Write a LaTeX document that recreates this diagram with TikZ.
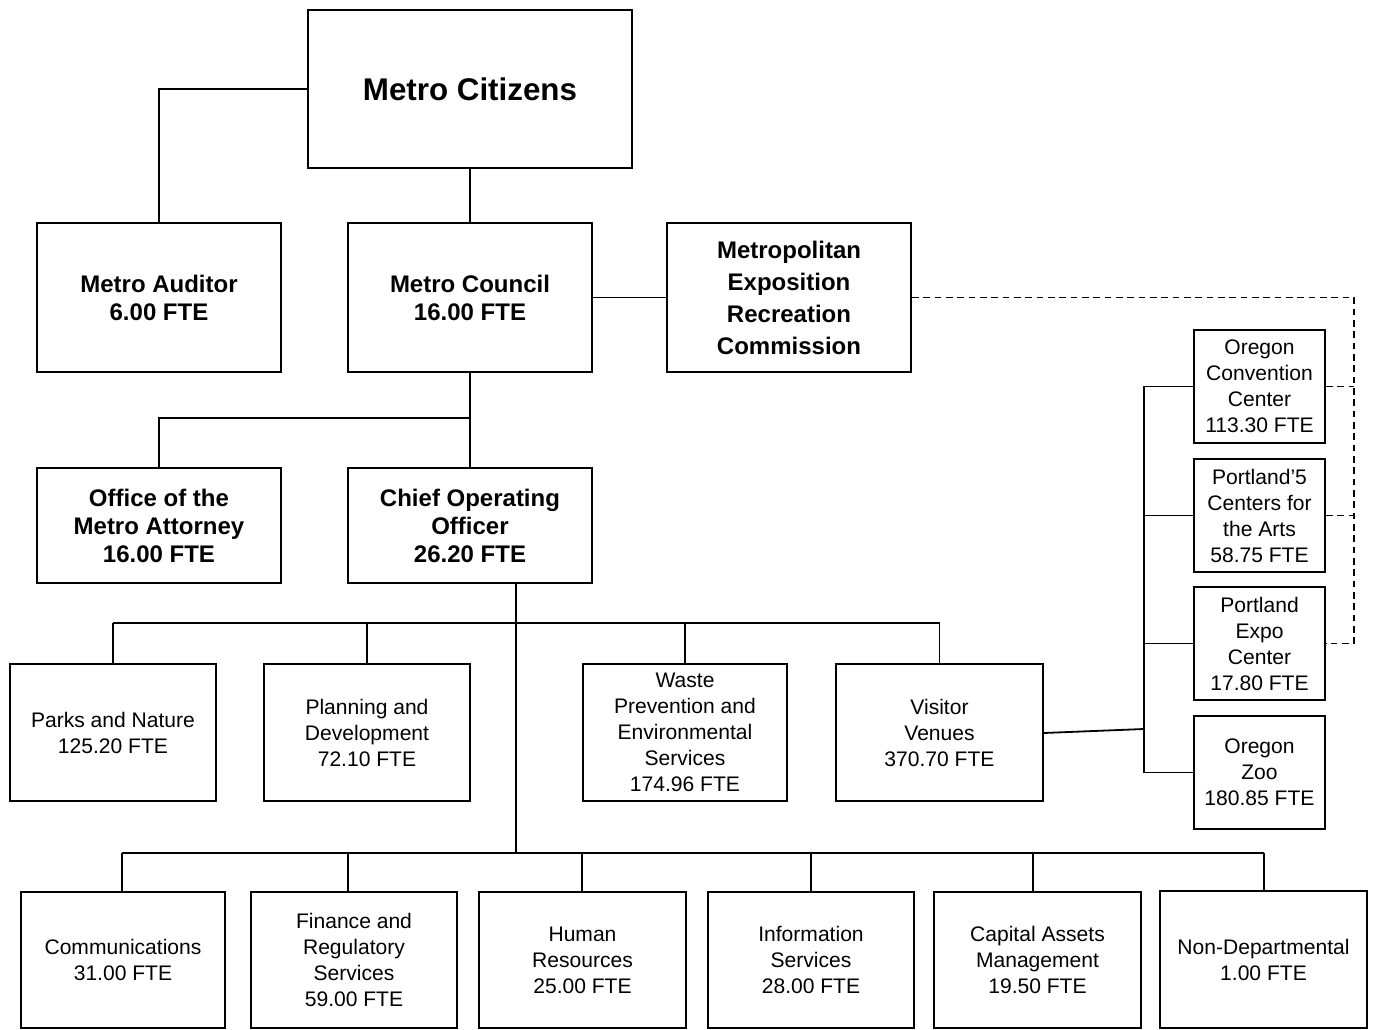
\documentclass[tikz,border=0pt]{standalone}
\usepackage{fontspec}
\setmainfont{Liberation Sans}
\begin{document}
\begin{tikzpicture}[x=0.75pt,y=-0.75pt,
  box/.style 2 args={draw, line width=1.35pt, align=center, inner sep=0pt,
    minimum width=#1*0.75pt, minimum height=#2*0.75pt,
    font=\fontsize{15.8}{19.5}\selectfont},
  bbox/.style 2 args={box={#1}{#2}, font=\bfseries\fontsize{18}{21}\selectfont},
  conn/.style={line width=1.35pt},
  dconn/.style={line width=1.35pt, dashed, dash pattern=on 5pt off 3.5pt}]
\useasboundingbox (0,0) rectangle (1375,1030);
\fill[white] (0,0) rectangle (1375,1030);
% top level
\node[box={324}{158}, font=\bfseries\fontsize{23.5}{27}\selectfont] (cit) at (470,89) {Metro Citizens};
\node[bbox={244}{149}] (aud) at (159,297.5) {Metro Auditor\\6.00 FTE};
\node[bbox={244}{149}] (cou) at (470,297.5) {Metro Council\\16.00 FTE};
\node[bbox={244}{149}, font=\bfseries\fontsize{18}{24}\selectfont] (merc) at (789,297.5) {Metropolitan\\Exposition\\Recreation\\Commission};
\node[bbox={244}{115}] (att) at (159,525.5) {Office of the\\Metro Attorney\\16.00 FTE};
\node[bbox={244}{115}] (coo) at (470,525.5) {Chief Operating\\Officer\\26.20 FTE};
% middle row
\node[box={206}{137}] (parks) at (113,732.5) {Parks and Nature\\125.20 FTE};
\node[box={206}{137}] (plan) at (367,732.5) {Planning and\\Development\\72.10 FTE};
\node[box={204}{137}] (waste) at (685,732.5) {Waste\\Prevention and\\Environmental\\Services\\174.96 FTE};
\node[box={207}{137}] (vv) at (939.5,732.5) {Visitor\\Venues\\370.70 FTE};
% venues
\node[box={131}{113}] (occ) at (1259.5,386.5) {Oregon\\Convention\\Center\\113.30 FTE};
\node[box={131}{113}] (p5) at (1259.5,515.5) {Portland’5\\Centers for\\the Arts\\58.75 FTE};
\node[box={131}{113}] (expo) at (1259.5,643.5) {Portland\\Expo\\Center\\17.80 FTE};
\node[box={131}{113}] (zoo) at (1259.5,772.5) {Oregon\\Zoo\\180.85 FTE};
% bottom row
\node[box={204}{136}] (comm) at (123,960) {Communications\\31.00 FTE};
\node[box={206}{136}] (fin) at (354,960) {Finance and\\Regulatory\\Services\\59.00 FTE};
\node[box={207}{136}] (hr) at (582.5,960) {Human\\Resources\\25.00 FTE};
\node[box={206}{136}] (info) at (811,960) {Information\\Services\\28.00 FTE};
\node[box={207}{136}] (cap) at (1037.5,960) {Capital Assets\\Management\\19.50 FTE};
\node[box={207}{137}] (nd) at (1263.5,959.5) {Non-Departmental\\1.00 FTE};
% coordinates
\coordinate (dr) at (1354,297.5);
\coordinate (vbus) at (1144,729);
\coordinate (cooout) at (516,583);
\coordinate (bus1) at (516,623);
\coordinate (bus2) at (516,853);
\coordinate (attj) at (470,418);
% connectors top
\draw[conn] (cit.west) -| (aud.north);
\draw[conn] (cit.south) -- (cou.north);
\draw[conn] (cou.east) -- (merc.west);
\draw[conn] (cou.south) -- (coo.north);
\draw[conn] (attj) -| (att.north);
% dashed
\draw[dconn] (merc.east) -- (dr) -- (dr |- expo.east) -- (expo.east);
\draw[dconn] (occ.east) -- (dr |- occ.east);
\draw[dconn] (p5.east) -- (dr |- p5.east);
% venues bus
\draw[conn] (vv.east |- 0,733) -- (vbus);
\draw[conn] (vbus |- occ.west) -- (vbus |- zoo.west);
\draw[conn] (vbus |- occ.west) -- (occ.west);
\draw[conn] (vbus |- p5.west) -- (p5.west);
\draw[conn] (vbus |- expo.west) -- (expo.west);
\draw[conn] (vbus |- zoo.west) -- (zoo.west);
% COO buses
\draw[conn] (cooout) -- (bus2);
\draw[conn] (parks.north |- bus1) -- (vv.north |- bus1);
\foreach \n in {parks,plan,waste,vv} \draw[conn] (\n.north |- bus1) -- (\n.north);
\draw[conn] (122,853) -- (1264,853);
\draw[conn] (122,853) -- (comm.north -| 122,0);
\draw[conn] (348,853) -- (fin.north -| 348,0);
\draw[conn] (582,853) -- (hr.north -| 582,0);
\draw[conn] (811,853) -- (info.north -| 811,0);
\draw[conn] (1033,853) -- (cap.north -| 1033,0);
\draw[conn] (1264,853) -- (nd.north -| 1264,0);
\end{tikzpicture}
\end{document}
